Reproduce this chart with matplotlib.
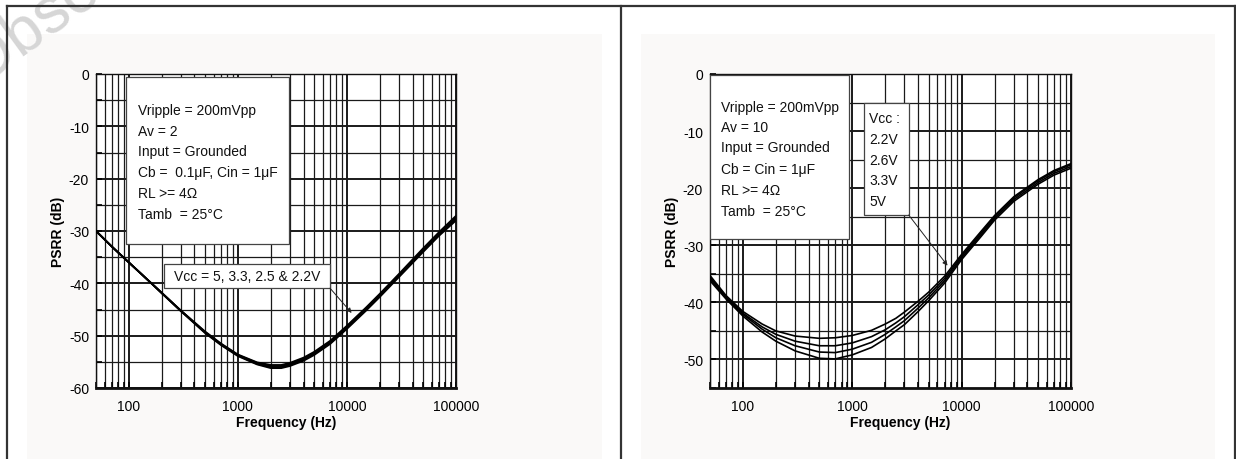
import numpy as np
import matplotlib.pyplot as plt
from matplotlib.patches import Rectangle
from matplotlib.lines import Line2D
from matplotlib.ticker import LogLocator, FixedLocator, NullFormatter

plt.rcParams['font.family'] = ['Liberation Sans', 'DejaVu Sans']
plt.rcParams['font.size'] = 10
plt.rcParams['axes.unicode_minus'] = False

# data
freq = [50, 70, 100, 150, 200, 300, 500, 700, 1000, 1500, 2000, 2500, 3000, 4000,
        5000, 7000, 10000, 15000, 20000, 30000, 50000, 70000, 100000]

# Av = 2, Vcc = 5, 3.3, 2.5, 2.2 V
psrr_av2_5v = [-30.0, -33.0, -36.0, -39.4, -41.8, -45.2, -49.2, -51.5, -53.6, -55.1, -55.6,
               -55.6, -55.2, -54.2, -53.1, -51.0, -48.1, -44.6, -42.0, -38.2, -33.3, -30.2, -27.1]
psrr_av2_33v = [-30.0, -33.0, -36.0, -39.4, -41.8, -45.2, -49.3, -51.6, -53.7, -55.2, -55.8,
                -55.8, -55.4, -54.4, -53.3, -51.2, -48.3, -44.8, -42.2, -38.4, -33.6, -30.5, -27.4]
psrr_av2_25v = [-30.0, -33.0, -36.0, -39.4, -41.8, -45.3, -49.4, -51.7, -53.8, -55.4, -56.0,
                -56.0, -55.6, -54.6, -53.5, -51.4, -48.5, -45.0, -42.4, -38.6, -33.8, -30.7, -27.7]
psrr_av2_22v = [-30.0, -33.0, -36.0, -39.4, -41.9, -45.3, -49.5, -51.8, -53.9, -55.5, -56.2,
                -56.2, -55.8, -54.8, -53.7, -51.6, -48.7, -45.2, -42.6, -38.8, -34.0, -30.9, -28.0]

# Av = 10, Vcc = 2.2, 2.6, 3.3, 5 V
psrr_av10_22v = [-35.3, -38.8, -41.6, -43.8, -45.0, -45.9, -46.3, -46.2, -45.8, -44.9, -43.8,
                 -42.8, -41.7, -39.8, -38.2, -35.4, -31.6, -27.6, -24.8, -21.5, -18.5, -16.9, -15.7]
psrr_av10_26v = [-35.6, -39.0, -41.9, -44.3, -45.6, -46.8, -47.6, -47.6, -47.1, -46.0, -44.8,
                 -43.6, -42.5, -40.4, -38.7, -35.8, -31.9, -27.9, -25.0, -21.7, -18.7, -17.1, -15.9]
psrr_av10_33v = [-35.9, -39.2, -42.1, -44.7, -46.2, -47.6, -48.7, -48.8, -48.2, -47.0, -45.6,
                 -44.3, -43.2, -41.0, -39.2, -36.2, -32.2, -28.2, -25.3, -22.0, -19.0, -17.4, -16.2]
psrr_av10_5v = [-36.2, -39.4, -42.4, -45.2, -46.8, -48.5, -49.8, -49.9, -49.2, -47.9, -46.4,
                -45.0, -43.9, -41.6, -39.7, -36.6, -32.5, -28.5, -25.6, -22.3, -19.3, -17.7, -16.5]

xticks = [100, 1000, 10000, 100000]
left_yticks = [0, -10, -20, -30, -40, -50, -60]
right_yticks = [0, -10, -20, -30, -40, -50]

left_box = ["Vripple = 200mVpp", "Av = 2", "Input = Grounded",
            "Cb =  0.1\u03bcF, Cin = 1\u03bcF", "RL >= 4\u03a9", "Tamb  = 25\u00b0C"]
right_box = ["Vripple = 200mVpp", "Av = 10", "Input = Grounded",
             "Cb = Cin = 1\u03bcF", "RL >= 4\u03a9", "Tamb  = 25\u00b0C"]
vcc_lines = ["Vcc :", "2.2V", "2.6V", "3.3V", "5V"]

W, H = 1236, 460
fig = plt.figure(figsize=(W / 100, H / 100), dpi=100)
fig.patch.set_facecolor('white')

# background panels, watermark and frame
for x0, x1 in [(27, 602), (641, 1215)]:
    fig.patches.append(Rectangle((x0 / W, 0), (x1 - x0) / W, 1 - 35 / H,
                                 transform=fig.transFigure, facecolor='#faf9f8',
                                 edgecolor='none', zorder=-1))
fig.text(-0.039, 0.82, "Obsolete", rotation=36, fontsize=46, color='#d6d6d6',
         ha='left', va='baseline', zorder=1)
frame = dict(color='#333333', lw=1.6, transform=fig.transFigure, zorder=5)
fig.lines.append(Line2D([7 / W, 1235 / W], [1 - 7 / H, 1 - 7 / H], **frame))
for xp in [7, 621, 1235]:
    fig.lines.append(Line2D([xp / W, xp / W], [0, 1 - 7 / H], **frame))


def setup(ax, ymin, yticks):
    ax.set_facecolor('white')
    ax.set_xscale('log')
    ax.set_xlim(50, 100000)
    ax.set_ylim(ymin, 0)
    ax.xaxis.set_major_locator(FixedLocator(xticks))
    ax.set_xticklabels([str(t) for t in xticks])
    ax.xaxis.set_minor_locator(LogLocator(base=10, subs=np.arange(2, 10)))
    ax.xaxis.set_minor_formatter(NullFormatter())
    ax.set_yticks(yticks)
    ax.yaxis.set_minor_locator(FixedLocator(np.arange(ymin, 0, 5)))
    ax.grid(which='major', color='#1a1a1a', lw=1.4)
    ax.grid(which='minor', color='#1a1a1a', lw=0.9)
    ax.tick_params(which='both', direction='in', length=4, width=1.2, labelsize=10,
                   top=False, right=False)
    ax.tick_params(axis='x', pad=8)
    ax.tick_params(axis='y', pad=5)
    for s in ax.spines.values():
        s.set_color('#111111')
        s.set_linewidth(1.0)
    ax.spines['bottom'].set_linewidth(2.0)
    ax.set_xlabel('Frequency (Hz)', fontweight='bold', fontsize=10)
    ax.xaxis.set_label_coords(0.528, -0.085)
    ax.set_ylabel('PSRR (dB)', fontweight='bold', fontsize=10)
    ax.yaxis.set_label_coords(-0.086, 0.5)
    ax.set_axisbelow(True)


def text_box(ax, x0, x1, y0, y1, tx, tys, lines, ha='left'):
    ax.add_patch(Rectangle((x0, y0), x1 - x0, y1 - y0, transform=ax.transAxes,
                           facecolor='white', edgecolor='#444444', lw=0.9, zorder=4))
    for ty, s in zip(tys, lines):
        ax.text(tx, ty, s, transform=ax.transAxes, ha=ha, va='center', fontsize=10,
                color='#111111', zorder=5)


# left chart
ax1 = fig.add_axes([96 / W, 1 - 389 / H, 360 / W, 314 / H])
setup(ax1, -60, left_yticks)
for v in [psrr_av2_5v, psrr_av2_33v, psrr_av2_25v, psrr_av2_22v]:
    ax1.plot(freq, v, color='black', lw=1.3, zorder=3)
text_box(ax1, 0.083, 0.536, 0.459, 0.990, 0.1176,
         [0.885, 0.820, 0.754, 0.688, 0.621, 0.554], left_box)
text_box(ax1, 0.189, 0.65, 0.318, 0.395, 0.419, [0.357],
         ["Vcc = 5, 3.3, 2.5 & 2.2V"], ha='center')
ax1.annotate('', xy=(0.710, 0.239), xytext=(0.65, 0.318), xycoords='axes fraction',
             arrowprops=dict(arrowstyle='-|>', color='#222222', lw=0.7,
                             mutation_scale=7, shrinkA=0, shrinkB=0), zorder=5)

# right chart
ax2 = fig.add_axes([710 / W, 1 - 389 / H, 361 / W, 314 / H])
setup(ax2, -55, right_yticks)
for v in [psrr_av10_22v, psrr_av10_26v, psrr_av10_33v, psrr_av10_5v]:
    ax2.plot(freq, v, color='black', lw=1.2, zorder=3)
text_box(ax2, 0.0, 0.384, 0.4745, 0.997, 0.031,
         [0.894, 0.830, 0.767, 0.697, 0.632, 0.565], right_box)
text_box(ax2, 0.4275, 0.5504, 0.551, 0.9076, 0.4413,
         [0.860, 0.793, 0.727, 0.662, 0.597], vcc_lines)
ax2.annotate('', xy=(0.658, 0.3896), xytext=(0.5504, 0.551), xycoords='axes fraction',
             arrowprops=dict(arrowstyle='-|>', color='#222222', lw=0.7,
                             mutation_scale=7, shrinkA=0, shrinkB=0), zorder=5)

fig.savefig('out.png', dpi=100)
